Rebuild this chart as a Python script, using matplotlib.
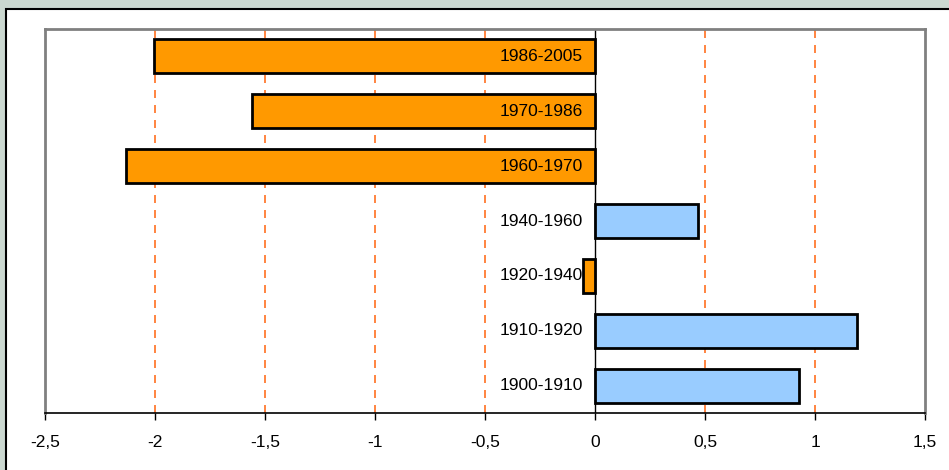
import matplotlib.pyplot as plt
from matplotlib.patches import Rectangle

periods = ['1900-1910', '1910-1920', '1920-1940', '1940-1960',
           '1960-1970', '1970-1986', '1986-2005']
values = [0.925, 1.19, -0.055, 0.47, -2.13, -1.56, -2.005]
xticks = [-2.5, -2, -1.5, -1, -0.5, 0, 0.5, 1, 1.5]
xticklabels = ['-2,5', '-2', '-1,5', '-1', '-0,5', '0', '0,5', '1', '1,5']

plt.rcParams['font.family'] = ['Liberation Sans', 'DejaVu Sans']

fig = plt.figure(figsize=(9.49, 4.70), dpi=100)
fig.patch.set_facecolor('#cbd8d0')
# white chart frame with black border
fig.patches.append(Rectangle((6 / 949, -0.05), 1.0, 1 - 9 / 470 + 0.05,
                             transform=fig.transFigure, facecolor='white',
                             edgecolor='black', linewidth=1.5, zorder=-5))

ax = fig.add_axes([45 / 949, 1 - 413 / 470, 880 / 949, 384 / 470])
ax.set_zorder(2)
ax.set_facecolor('white')

ypos = list(range(len(periods)))
colors = ['#ff9900' if v < 0 else '#99ccff' for v in values]
ax.barh(ypos, values, height=0.62, color=colors, edgecolor='black',
        linewidth=2, zorder=3)

for y, lab in zip(ypos, periods):
    ax.text(-0.055, y, lab, ha='right', va='center', fontsize=12.5, zorder=4)

# dashed orange gridlines
for x in [-2, -1.5, -1, -0.5, 0.5, 1]:
    ax.axvline(x, color='#ff7020', linestyle=(0, (4.8, 4.2)), linewidth=1.2,
               zorder=1)
ax.axvline(0, color='black', linewidth=1, zorder=2)

ax.set_xlim(-2.5, 1.5)
ax.set_ylim(-0.5, 6.5)
ax.set_xticks(xticks)
ax.set_xticklabels(xticklabels, fontsize=12.5)
ax.set_yticks([])
ax.tick_params(axis='x', direction='out', length=5, width=1, pad=11)

for side in ['left', 'top', 'right']:
    ax.spines[side].set_color('#808080')
    ax.spines[side].set_linewidth(2)
ax.spines['bottom'].set_color('black')
ax.spines['bottom'].set_linewidth(1.2)

fig.savefig('out.png', dpi=100, facecolor=fig.get_facecolor())
